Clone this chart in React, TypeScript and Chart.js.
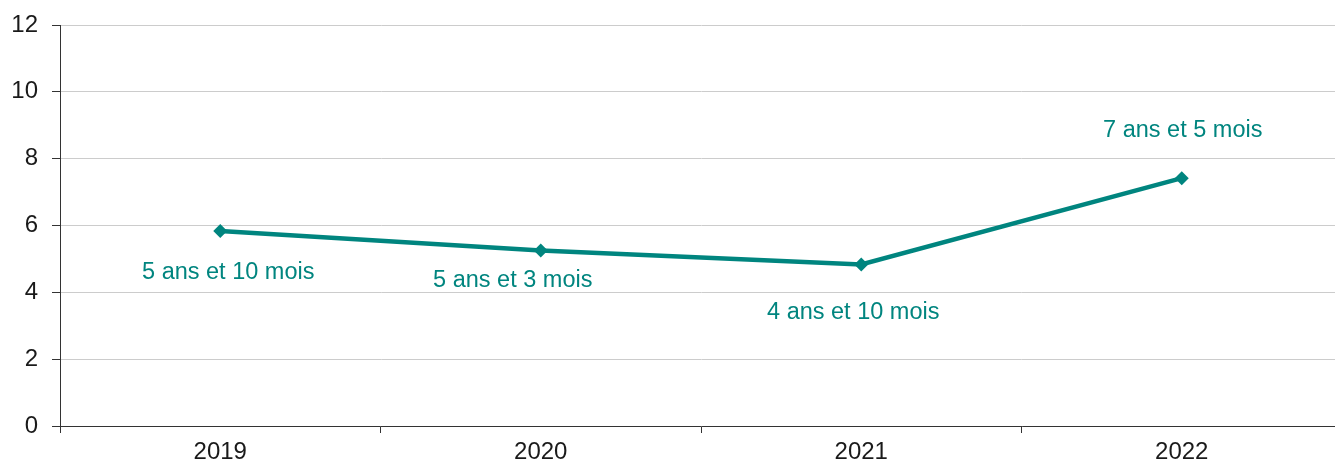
import React, { useEffect, useRef } from "react";
import { Chart, registerables } from "chart.js";

Chart.register(...registerables);

const categories = ["2019", "2020", "2021", "2022"];
const values = [5 + 10 / 12, 5 + 3 / 12, 4 + 10 / 12, 7 + 5 / 12];
const pointLabels = ["5 ans et 10 mois", "5 ans et 3 mois", "4 ans et 10 mois", "7 ans et 5 mois"];
const labelOffsets = [
  [8, 41],
  [-28, 30],
  [-8, 48],
  [1, -48],
];
const yTicks = [0, 2, 4, 6, 8, 10, 12];

const TEAL = "#00857f";
const FONT = "'Liberation Sans', Arial, sans-serif";

const labelPlugin = {
  id: "pointLabels",
  afterDatasetsDraw(chart: any) {
    const meta = chart.getDatasetMeta(0);
    const ctx = chart.ctx;
    ctx.save();
    ctx.font = `23.5px ${FONT}`;
    ctx.fillStyle = TEAL;
    ctx.textAlign = "center";
    ctx.textBaseline = "middle";
    meta.data.forEach((pt: any, i: number) => {
      const [dx, dy] = labelOffsets[i];
      ctx.fillText(pointLabels[i], pt.x + dx, pt.y + dy);
    });
    ctx.restore();
  },
};

export default function App() {
  const ref = useRef<HTMLCanvasElement>(null);
  useEffect(() => {
    if (!ref.current) return;
    const chart = new Chart(ref.current, {
      type: "line",
      data: {
        labels: categories,
        datasets: [
          {
            data: values,
            borderColor: TEAL,
            backgroundColor: TEAL,
            borderWidth: 4.5,
            pointStyle: "rectRot",
            pointRadius: 7,
            pointBorderWidth: 0,
            tension: 0,
          },
        ],
      },
      options: {
        responsive: false,
        animation: false,
        layout: { padding: { top: 25, right: 3, left: 0, bottom: 0 } },
        plugins: { legend: { display: false }, tooltip: { enabled: false } },
        scales: {
          x: {
            offset: true,
            grid: {
              offset: true,
              drawOnChartArea: false,
              drawTicks: true,
              tickLength: 7,
              tickColor: "#333",
            },
            border: { color: "#333", width: 1 },
            ticks: { color: "#1a1a1a", font: { family: FONT, size: 24 }, padding: 5 },
            afterFit: (s: any) => {
              s.height = 40;
              s.paddingLeft = 0;
              s.paddingRight = 0;
            },
          },
          y: {
            min: 0,
            max: 12,
            afterBuildTicks: (s: any) => {
              s.ticks = yTicks.map((v) => ({ value: v }));
            },
            grid: { color: "#cccccc", tickLength: 8, tickColor: "#333" },
            border: { color: "#333", width: 1 },
            ticks: { color: "#1a1a1a", font: { family: FONT, size: 24 }, padding: 14 },
            afterFit: (s: any) => {
              s.width = 60;
              s.paddingTop = 0;
              s.paddingBottom = 0;
            },
          },
        },
      },
      plugins: [labelPlugin],
    });
    return () => chart.destroy();
  }, []);
  return (
    <div style={{ position: "fixed", left: 0, top: 0, width: 1335, height: 466, overflow: "hidden", background: "#fff" }}>
      <canvas ref={ref} width={1349} height={466} />
    </div>
  );
}
